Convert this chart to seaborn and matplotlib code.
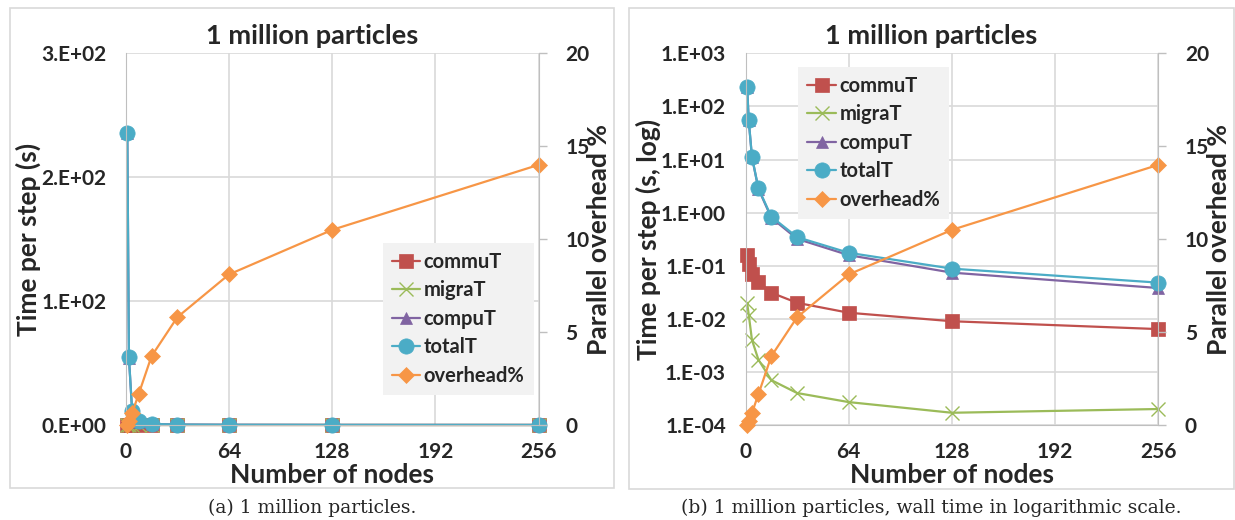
import numpy as np
import pandas as pd
import matplotlib
matplotlib.use("Agg")
import matplotlib.pyplot as plt
import seaborn as sns
from matplotlib.patches import Rectangle
from matplotlib.ticker import FixedLocator, FuncFormatter, NullLocator

# ---------------- data ----------------
nodes = [1, 2, 4, 8, 16, 32, 64, 128, 256]
commuT = [0.16, 0.11, 0.071, 0.049, 0.031, 0.020, 0.013, 0.0090, 0.0064]
migraT = [0.020, 0.012, 0.0040, 0.0017, 0.0007, 0.0004, 0.00027, 0.00017, 0.00020]
compuT = [235.8, 54.3, 11.1, 2.8, 0.80, 0.32, 0.158, 0.074, 0.038]
totalT = [236.0, 54.5, 11.2, 2.87, 0.84, 0.345, 0.175, 0.088, 0.048]
overhead = [0.0, 0.2, 0.65, 1.65, 3.7, 5.8, 8.1, 10.5, 14.0]

series_names = ["commuT", "migraT", "compuT", "totalT"]
series_vals = [commuT, migraT, compuT, totalT]
overhead_name = "overhead%"

titles = ["1 million particles", "1 million particles"]
ylabels = ["Time per step (s)", "Time per step (s, log)"]
y2label = "Parallel overhead %"
xlabel = "Number of nodes"
captions = ["(a) 1 million particles.",
            "(b) 1 million particles, wall time in logarithmic scale."]
xticks = [0, 64, 128, 192, 256]
lin_yticks = [0, 100, 200, 300]
log_yticks = [1e-4, 1e-3, 1e-2, 1e-1, 1e0, 1e1, 1e2, 1e3]
y2ticks = [0, 5, 10, 15, 20]

# ---------------- style ----------------
colors = {"commuT": "#C0504D", "migraT": "#9BBB59", "compuT": "#8064A2",
          "totalT": "#4BACC6", "overhead%": "#F79646"}
markers = {"commuT": "s", "migraT": "x", "compuT": "^", "totalT": "o",
           "overhead%": "D"}
msizes = {"commuT": 10, "migraT": 10, "compuT": 9, "totalT": 11, "overhead%": 8}

sns.set_style("white")
plt.rcParams["font.family"] = ["Lato", "DejaVu Sans"]
plt.rcParams["font.weight"] = "bold"

W, H = 1235, 520
fig = plt.figure(figsize=(W / 100, H / 100), dpi=100)

GRID = "#d9d9d9"
SPINE = "#bfbfbf"


def fmt_sci(v, pos):
    if v <= 0:
        return "0.E+00"
    e = int(np.floor(np.log10(v) + 1e-9))
    m = int(round(v / 10 ** e))
    return f"{m}.E{e:+03d}"


def px_axes(x0, x1, y0, y1):
    return [x0 / W, 1 - y1 / H, (x1 - x0) / W, (y1 - y0) / H]


panels = [
    dict(rect=px_axes(125.7, 538.7, 53.3, 425), log=False, box=(10, 614, 8, 488),
         title_x=312, cap_x=312, leg=(0.622, 0.49)),
    dict(rect=px_axes(745.5, 1158.4, 53.3, 425), log=True, box=(628.6, 1233.5, 8, 489),
         title_x=931, cap_x=931, leg=(0.128, 0.964)),
]

for i, p in enumerate(panels):
    # outer chart frame
    bx0, bx1, by0, by1 = p["box"]
    fig.patches.append(Rectangle((bx0 / W, 1 - by1 / H), (bx1 - bx0) / W, (by1 - by0) / H,
                                 transform=fig.transFigure, fill=False,
                                 edgecolor=GRID, linewidth=1.2))

    ax = fig.add_axes(p["rect"])
    ax2 = ax.twinx()
    for name, vals in zip(series_names, series_vals):
        c = colors[name]
        kw = dict(markeredgecolor=c, markeredgewidth=1.0 if name == "migraT" else 0.5)
        sns.lineplot(x=nodes, y=vals, ax=ax, color=c, marker=markers[name],
                     markersize=msizes[name], linewidth=1.6, clip_on=False,
                     label=name, legend=False, **kw)
    c = colors[overhead_name]
    sns.lineplot(x=nodes, y=overhead, ax=ax2, color=c, marker=markers[overhead_name],
                 markersize=msizes[overhead_name], linewidth=1.6, clip_on=False,
                 markeredgecolor=c, markeredgewidth=0.5, label=overhead_name, legend=False)

    ax.set_xlim(0, 256)
    ax.xaxis.set_major_locator(FixedLocator(xticks))
    if p["log"]:
        ax.set_yscale("log")
        ax.set_ylim(1e-4, 1e3)
        ax.yaxis.set_major_locator(FixedLocator(log_yticks))
        ax.yaxis.set_minor_locator(NullLocator())
    else:
        ax.set_ylim(0, 300)
        ax.yaxis.set_major_locator(FixedLocator(lin_yticks))
    ax.yaxis.set_major_formatter(FuncFormatter(fmt_sci))
    ax2.set_ylim(0, 20)
    ax2.yaxis.set_major_locator(FixedLocator(y2ticks))

    ax.grid(True, color=GRID, linewidth=1.2)
    ax2.grid(False)
    ax.set_axisbelow(True)
    for s in ["top", "right"]:
        ax.spines[s].set_visible(False)
    for s in ["left", "bottom"]:
        ax.spines[s].set_color(SPINE)
    for s in ["top", "left", "bottom"]:
        ax2.spines[s].set_visible(False)
    ax2.spines["right"].set_color(SPINE)

    ax.tick_params(axis="y", length=0, pad=14, labelsize=15)
    ax.tick_params(axis="x", length=0, pad=12, labelsize=15)
    ax2.tick_params(axis="y", length=6, width=1, color=SPINE, direction="out",
                    pad=13, labelsize=15)
    for lab in ax.get_xticklabels() + ax.get_yticklabels() + ax2.get_yticklabels():
        lab.set_fontweight("bold")

    ax.set_xlabel(xlabel, fontsize=19, fontweight="bold")
    ax.xaxis.set_label_coords(0.5, -0.102)
    ax.set_ylabel(ylabels[i], fontsize=19, fontweight="bold")
    ax.yaxis.set_label_coords(-0.205, 0.5)
    ax2.set_ylabel(y2label, fontsize=19, fontweight="bold")
    ax2.yaxis.set_label_coords(1.118, 0.5)

    fig.text(p["title_x"] / W, 1 - 36 / H, titles[i], ha="center", va="center",
             fontsize=19.5, fontweight="bold")
    fig.text(p["cap_x"] / W, 1 - 508 / H, captions[i], ha="center", va="center",
             fontsize=13.5, fontweight="normal", family=["DejaVu Serif"])

    h1, l1 = ax.get_legend_handles_labels()
    h2, l2 = ax2.get_legend_handles_labels()
    ax2.legend(h1 + h2, l1 + l2, loc="upper left", bbox_to_anchor=p["leg"],
               borderaxespad=0, frameon=True, fancybox=False,
               facecolor="#f2f2f2", edgecolor="none", framealpha=1,
               handlelength=1.4, handletextpad=0.2, labelspacing=0.42,
               borderpad=0.45, prop={"size": 14.5, "weight": "bold"})

fig.savefig("out.png", dpi=100)
